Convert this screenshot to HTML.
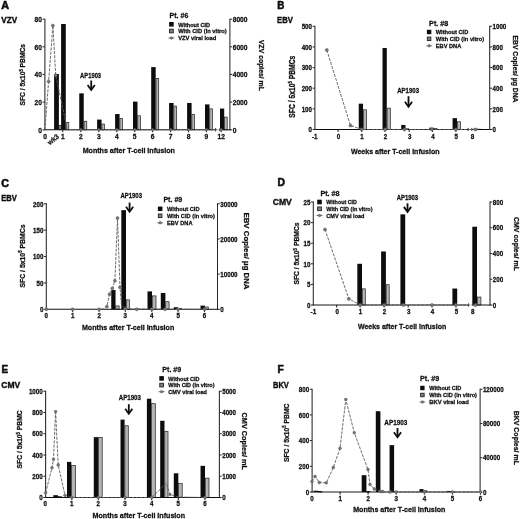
<!DOCTYPE html>
<html lang="en"><head><meta charset="utf-8"><title>Figure: T-cell responses and viral loads</title>
<style>html,body{margin:0;padding:0;background:#fff;}svg{display:block;}text{font-family:'Liberation Sans', 'DejaVu Sans', sans-serif;}</style>
</head><body>
<svg width="520" height="519" viewBox="0 0 520 519">
<rect x="0" y="0" width="520" height="519" fill="#fff"/>
<defs><filter id="soft" x="0" y="0" width="520" height="519" filterUnits="userSpaceOnUse"><feGaussianBlur stdDeviation="0.38"/></filter></defs>
<g filter="url(#soft)">
<g id="panelA">
<text x="1.30" y="9.10" font-size="10.9" font-weight="bold" fill="#111" stroke="#111" stroke-width="0.6" textLength="7.80" lengthAdjust="spacingAndGlyphs">A</text>
<text x="1.30" y="23.00" font-size="8.4" font-weight="bold" fill="#111" stroke="#111" stroke-width="0.4" textLength="15.80" lengthAdjust="spacingAndGlyphs">VZV</text>
<rect x="54.10" y="74.00" width="4.80" height="55.80" fill="#111"/>
<rect x="59.20" y="125.40" width="1.80" height="4.40" fill="#b4b4b4" stroke="#222" stroke-width="0.7"/>
<rect x="61.10" y="24.00" width="4.70" height="105.80" fill="#111"/>
<rect x="66.10" y="122.64" width="2.70" height="7.16" fill="#b4b4b4" stroke="#222" stroke-width="0.7"/>
<rect x="79.25" y="93.34" width="4.50" height="36.47" fill="#111"/>
<rect x="84.05" y="121.26" width="2.70" height="8.54" fill="#b4b4b4" stroke="#222" stroke-width="0.7"/>
<rect x="97.10" y="119.58" width="4.50" height="10.22" fill="#111"/>
<rect x="101.90" y="124.02" width="2.70" height="5.78" fill="#b4b4b4" stroke="#222" stroke-width="0.7"/>
<rect x="115.10" y="114.05" width="4.50" height="15.75" fill="#111"/>
<rect x="119.90" y="118.50" width="2.70" height="11.30" fill="#b4b4b4" stroke="#222" stroke-width="0.7"/>
<rect x="133.00" y="101.62" width="4.50" height="28.18" fill="#111"/>
<rect x="137.80" y="115.73" width="2.70" height="14.07" fill="#b4b4b4" stroke="#222" stroke-width="0.7"/>
<rect x="151.20" y="67.09" width="4.50" height="62.71" fill="#111"/>
<rect x="156.00" y="78.44" width="2.70" height="51.36" fill="#b4b4b4" stroke="#222" stroke-width="0.7"/>
<rect x="169.10" y="103.00" width="4.50" height="26.80" fill="#111"/>
<rect x="173.90" y="106.07" width="2.70" height="23.73" fill="#b4b4b4" stroke="#222" stroke-width="0.7"/>
<rect x="187.10" y="103.00" width="4.50" height="26.80" fill="#111"/>
<rect x="191.90" y="114.35" width="2.70" height="15.45" fill="#b4b4b4" stroke="#222" stroke-width="0.7"/>
<rect x="205.00" y="104.39" width="4.50" height="25.41" fill="#111"/>
<rect x="209.80" y="108.83" width="2.70" height="20.97" fill="#b4b4b4" stroke="#222" stroke-width="0.7"/>
<rect x="220.00" y="108.53" width="4.20" height="21.27" fill="#111"/>
<rect x="224.50" y="117.12" width="2.70" height="12.68" fill="#b4b4b4" stroke="#222" stroke-width="0.7"/>
<line x1="44.40" y1="129.80" x2="215.80" y2="129.80" stroke="#111" stroke-width="1.05" />
<line x1="219.40" y1="129.80" x2="230.40" y2="129.80" stroke="#111" stroke-width="1.05" />
<line x1="215.60" y1="128.00" x2="215.60" y2="131.60" stroke="#111" stroke-width="0.8" />
<line x1="219.50" y1="128.30" x2="219.50" y2="131.30" stroke="#111" stroke-width="0.6" />
<line x1="44.90" y1="18.70" x2="44.90" y2="130.30" stroke="#262626" stroke-width="1.05" />
<line x1="42.60" y1="19.20" x2="44.90" y2="19.20" stroke="#262626" stroke-width="1.0" />
<text x="34.60" y="22.13" font-size="7.5" font-weight="bold" fill="#111" stroke="#111" stroke-width="0.28" textLength="7.40" lengthAdjust="spacingAndGlyphs">80</text>
<line x1="42.60" y1="46.80" x2="44.90" y2="46.80" stroke="#262626" stroke-width="1.0" />
<text x="34.60" y="49.73" font-size="7.5" font-weight="bold" fill="#111" stroke="#111" stroke-width="0.28" textLength="7.40" lengthAdjust="spacingAndGlyphs">60</text>
<line x1="42.60" y1="74.45" x2="44.90" y2="74.45" stroke="#262626" stroke-width="1.0" />
<text x="34.60" y="77.39" font-size="7.5" font-weight="bold" fill="#111" stroke="#111" stroke-width="0.28" textLength="7.40" lengthAdjust="spacingAndGlyphs">40</text>
<line x1="42.60" y1="102.10" x2="44.90" y2="102.10" stroke="#262626" stroke-width="1.0" />
<text x="34.60" y="105.03" font-size="7.5" font-weight="bold" fill="#111" stroke="#111" stroke-width="0.28" textLength="7.40" lengthAdjust="spacingAndGlyphs">20</text>
<line x1="42.60" y1="129.80" x2="44.90" y2="129.80" stroke="#262626" stroke-width="1.0" />
<text x="38.30" y="132.74" font-size="7.5" font-weight="bold" fill="#111" stroke="#111" stroke-width="0.28" textLength="3.70" lengthAdjust="spacingAndGlyphs">0</text>
<line x1="229.90" y1="18.70" x2="229.90" y2="130.30" stroke="#262626" stroke-width="1.05" />
<line x1="229.90" y1="19.20" x2="232.20" y2="19.20" stroke="#262626" stroke-width="1.0" />
<text x="232.70" y="22.13" font-size="7.5" font-weight="bold" fill="#111" stroke="#111" stroke-width="0.28" textLength="14.80" lengthAdjust="spacingAndGlyphs">8000</text>
<line x1="229.90" y1="46.80" x2="232.20" y2="46.80" stroke="#262626" stroke-width="1.0" />
<text x="232.70" y="49.73" font-size="7.5" font-weight="bold" fill="#111" stroke="#111" stroke-width="0.28" textLength="14.80" lengthAdjust="spacingAndGlyphs">6000</text>
<line x1="229.90" y1="74.45" x2="232.20" y2="74.45" stroke="#262626" stroke-width="1.0" />
<text x="232.70" y="77.39" font-size="7.5" font-weight="bold" fill="#111" stroke="#111" stroke-width="0.28" textLength="14.80" lengthAdjust="spacingAndGlyphs">4000</text>
<line x1="229.90" y1="102.10" x2="232.20" y2="102.10" stroke="#262626" stroke-width="1.0" />
<text x="232.70" y="105.03" font-size="7.5" font-weight="bold" fill="#111" stroke="#111" stroke-width="0.28" textLength="14.80" lengthAdjust="spacingAndGlyphs">2000</text>
<line x1="229.90" y1="129.80" x2="232.20" y2="129.80" stroke="#262626" stroke-width="1.0" />
<text x="232.70" y="132.74" font-size="7.5" font-weight="bold" fill="#111" stroke="#111" stroke-width="0.28" textLength="3.70" lengthAdjust="spacingAndGlyphs">0</text>
<line x1="62.80" y1="129.80" x2="62.80" y2="132.20" stroke="#111" stroke-width="1.0" />
<line x1="80.80" y1="129.80" x2="80.80" y2="132.20" stroke="#111" stroke-width="1.0" />
<line x1="98.80" y1="129.80" x2="98.80" y2="132.20" stroke="#111" stroke-width="1.0" />
<line x1="116.80" y1="129.80" x2="116.80" y2="132.20" stroke="#111" stroke-width="1.0" />
<line x1="134.70" y1="129.80" x2="134.70" y2="132.20" stroke="#111" stroke-width="1.0" />
<line x1="152.60" y1="129.80" x2="152.60" y2="132.20" stroke="#111" stroke-width="1.0" />
<line x1="170.60" y1="129.80" x2="170.60" y2="132.20" stroke="#111" stroke-width="1.0" />
<line x1="188.50" y1="129.80" x2="188.50" y2="132.20" stroke="#111" stroke-width="1.0" />
<line x1="206.40" y1="129.80" x2="206.40" y2="132.20" stroke="#111" stroke-width="1.0" />
<line x1="221.20" y1="129.80" x2="221.20" y2="132.20" stroke="#111" stroke-width="1.0" />
<text x="43.35" y="139.10" font-size="7.5" font-weight="bold" fill="#111" stroke="#111" stroke-width="0.28" textLength="3.70" lengthAdjust="spacingAndGlyphs">0</text>
<text x="60.95" y="139.10" font-size="7.5" font-weight="bold" fill="#111" stroke="#111" stroke-width="0.28" textLength="3.70" lengthAdjust="spacingAndGlyphs">1</text>
<text x="78.95" y="139.10" font-size="7.5" font-weight="bold" fill="#111" stroke="#111" stroke-width="0.28" textLength="3.70" lengthAdjust="spacingAndGlyphs">2</text>
<text x="96.95" y="139.10" font-size="7.5" font-weight="bold" fill="#111" stroke="#111" stroke-width="0.28" textLength="3.70" lengthAdjust="spacingAndGlyphs">3</text>
<text x="114.95" y="139.10" font-size="7.5" font-weight="bold" fill="#111" stroke="#111" stroke-width="0.28" textLength="3.70" lengthAdjust="spacingAndGlyphs">4</text>
<text x="132.85" y="139.10" font-size="7.5" font-weight="bold" fill="#111" stroke="#111" stroke-width="0.28" textLength="3.70" lengthAdjust="spacingAndGlyphs">5</text>
<text x="150.75" y="139.10" font-size="7.5" font-weight="bold" fill="#111" stroke="#111" stroke-width="0.28" textLength="3.70" lengthAdjust="spacingAndGlyphs">6</text>
<text x="168.75" y="139.10" font-size="7.5" font-weight="bold" fill="#111" stroke="#111" stroke-width="0.28" textLength="3.70" lengthAdjust="spacingAndGlyphs">7</text>
<text x="186.65" y="139.10" font-size="7.5" font-weight="bold" fill="#111" stroke="#111" stroke-width="0.28" textLength="3.70" lengthAdjust="spacingAndGlyphs">8</text>
<text x="204.55" y="139.10" font-size="7.5" font-weight="bold" fill="#111" stroke="#111" stroke-width="0.28" textLength="3.70" lengthAdjust="spacingAndGlyphs">9</text>
<text x="217.50" y="139.10" font-size="7.5" font-weight="bold" fill="#111" stroke="#111" stroke-width="0.28" textLength="7.40" lengthAdjust="spacingAndGlyphs">12</text>
<text transform="translate(53.3,139.6) rotate(-40)" x="-6.2" y="2.3" font-size="7.1" font-weight="bold" fill="#111" stroke="#111" stroke-width="0.25" textLength="12.4" lengthAdjust="spacingAndGlyphs">wk3</text>
<polyline points="44.90,130.00 48.60,81.40 52.90,25.60 55.70,75.00 67.50,130.20" fill="none" stroke="#5c5c5c" stroke-width="0.9" stroke-dasharray="3 1.2"/>
<polyline points="67.50,129.80 222.00,129.80" fill="none" stroke="#5c5c5c" stroke-width="1.0" stroke-dasharray="3 1.2"/>
<circle cx="48.60" cy="81.40" r="1.5" fill="#767676" stroke="#5a5a5a" stroke-width="0.5"/>
<circle cx="52.90" cy="25.60" r="1.5" fill="#767676" stroke="#5a5a5a" stroke-width="0.5"/>
<circle cx="55.70" cy="75.20" r="1.5" fill="#767676" stroke="#5a5a5a" stroke-width="0.5"/>
<circle cx="80.80" cy="129.80" r="1.25" fill="#767676" stroke="#5a5a5a" stroke-width="0.5"/>
<circle cx="98.80" cy="129.80" r="1.25" fill="#767676" stroke="#5a5a5a" stroke-width="0.5"/>
<circle cx="116.80" cy="129.80" r="1.25" fill="#767676" stroke="#5a5a5a" stroke-width="0.5"/>
<circle cx="134.70" cy="129.80" r="1.25" fill="#767676" stroke="#5a5a5a" stroke-width="0.5"/>
<circle cx="152.60" cy="129.80" r="1.25" fill="#767676" stroke="#5a5a5a" stroke-width="0.5"/>
<circle cx="170.60" cy="129.80" r="1.25" fill="#767676" stroke="#5a5a5a" stroke-width="0.5"/>
<circle cx="188.50" cy="129.80" r="1.25" fill="#767676" stroke="#5a5a5a" stroke-width="0.5"/>
<circle cx="206.40" cy="129.80" r="1.25" fill="#767676" stroke="#5a5a5a" stroke-width="0.5"/>
<circle cx="221.20" cy="129.80" r="1.25" fill="#767676" stroke="#5a5a5a" stroke-width="0.5"/>
<text x="80.10" y="78.20" font-size="7.0" font-weight="bold" fill="#111" stroke="#111" stroke-width="0.28" textLength="21.00" lengthAdjust="spacingAndGlyphs">AP1903</text>
<line x1="91.20" y1="80.50" x2="91.20" y2="89.70" stroke="#111" stroke-width="1.8" />
<polyline points="87.60,85.00 91.20,90.00 94.80,85.00" fill="none" stroke="#111" stroke-width="1.8" stroke-linejoin="miter"/>
<text x="169.60" y="18.35" font-size="7.9" font-weight="bold" fill="#111" stroke="#111" stroke-width="0.28" textLength="18.70" lengthAdjust="spacingAndGlyphs">Pt. #6</text>
<rect x="169.10" y="22.00" width="4.60" height="4.60" fill="#111"/>
<rect x="169.55" y="29.15" width="3.70" height="3.70" fill="#808080" stroke="#222" stroke-width="0.9"/>
<line x1="168.50" y1="38.00" x2="174.30" y2="38.00" stroke="#5c5c5c" stroke-width="0.9" />
<circle cx="171.40" cy="38.00" r="1.3" fill="#767676" stroke="#5a5a5a" stroke-width="0.5"/>
<text x="178.20" y="26.60" font-size="6.1" font-weight="bold" fill="#111" stroke="#111" stroke-width="0.28" textLength="31.80" lengthAdjust="spacingAndGlyphs">Without CID</text>
<text x="178.20" y="33.30" font-size="6.1" font-weight="bold" fill="#111" stroke="#111" stroke-width="0.28" textLength="48.60" lengthAdjust="spacingAndGlyphs">With CID (in vitro)</text>
<text x="178.20" y="40.30" font-size="6.1" font-weight="bold" fill="#111" stroke="#111" stroke-width="0.28" textLength="38.10" lengthAdjust="spacingAndGlyphs">VZV viral load</text>
<text transform="translate(22.20,74.70) rotate(-90)" x="-30.75" y="2.90" font-size="8.1" font-weight="bold" fill="#111" stroke="#111" stroke-width="0.28" textLength="61.50" lengthAdjust="spacingAndGlyphs">SFC / 5x10<tspan font-size="5" dy="-2.6">5</tspan><tspan dy="2.6"> </tspan>PBMCs</text>
<text transform="translate(261.80,65.40) rotate(90)" x="-25.40" y="2.60" font-size="7.7" font-weight="bold" fill="#111" stroke="#111" stroke-width="0.28" textLength="50.80" lengthAdjust="spacingAndGlyphs">VZV copies/ mL</text>
<text x="82.65" y="153.40" font-size="7.7" font-weight="bold" fill="#111" stroke="#111" stroke-width="0.28" textLength="92.30" lengthAdjust="spacingAndGlyphs">Months after T-cell infusion</text>
</g>
<g id="panelB">
<text x="277.30" y="9.10" font-size="10.9" font-weight="bold" fill="#111" stroke="#111" stroke-width="0.6" textLength="7.10" lengthAdjust="spacingAndGlyphs">B</text>
<text x="277.10" y="23.10" font-size="8.4" font-weight="bold" fill="#111" stroke="#111" stroke-width="0.4" textLength="15.70" lengthAdjust="spacingAndGlyphs">EBV</text>
<rect x="358.75" y="103.70" width="4.30" height="25.80" fill="#111"/>
<rect x="363.35" y="109.78" width="3.20" height="19.72" fill="#b4b4b4" stroke="#222" stroke-width="0.7"/>
<rect x="382.50" y="47.97" width="4.30" height="81.53" fill="#111"/>
<rect x="387.10" y="108.13" width="3.20" height="21.37" fill="#b4b4b4" stroke="#222" stroke-width="0.7"/>
<rect x="401.20" y="124.96" width="4.30" height="4.54" fill="#111"/>
<rect x="405.80" y="128.77" width="3.00" height="0.73" fill="#b4b4b4" stroke="#222" stroke-width="0.7"/>
<rect x="429.40" y="127.64" width="4.20" height="1.86" fill="#111"/>
<rect x="433.90" y="128.36" width="3.00" height="1.14" fill="#b4b4b4" stroke="#222" stroke-width="0.7"/>
<rect x="452.60" y="118.15" width="4.40" height="11.35" fill="#111"/>
<rect x="457.30" y="121.75" width="3.20" height="7.75" fill="#b4b4b4" stroke="#222" stroke-width="0.7"/>
<rect x="473.60" y="128.47" width="3.60" height="1.03" fill="#111"/>
<rect x="477.50" y="129.18" width="2.80" height="0.32" fill="#b4b4b4" stroke="#222" stroke-width="0.7"/>
<line x1="314.40" y1="129.50" x2="468.30" y2="129.50" stroke="#111" stroke-width="1.0" />
<line x1="471.70" y1="129.50" x2="490.20" y2="129.50" stroke="#111" stroke-width="1.0" />
<line x1="468.20" y1="127.90" x2="468.20" y2="131.10" stroke="#111" stroke-width="0.8" />
<line x1="471.80" y1="127.90" x2="471.80" y2="131.10" stroke="#111" stroke-width="0.8" />
<line x1="314.90" y1="25.80" x2="314.90" y2="130.00" stroke="#262626" stroke-width="1.05" />
<line x1="312.60" y1="26.30" x2="314.90" y2="26.30" stroke="#262626" stroke-width="1.0" />
<text x="301.65" y="29.02" font-size="6.9" font-weight="bold" fill="#111" stroke="#111" stroke-width="0.28" textLength="10.35" lengthAdjust="spacingAndGlyphs">500</text>
<line x1="312.60" y1="46.95" x2="314.90" y2="46.95" stroke="#262626" stroke-width="1.0" />
<text x="301.65" y="49.67" font-size="6.9" font-weight="bold" fill="#111" stroke="#111" stroke-width="0.28" textLength="10.35" lengthAdjust="spacingAndGlyphs">400</text>
<line x1="312.60" y1="67.60" x2="314.90" y2="67.60" stroke="#262626" stroke-width="1.0" />
<text x="301.65" y="70.32" font-size="6.9" font-weight="bold" fill="#111" stroke="#111" stroke-width="0.28" textLength="10.35" lengthAdjust="spacingAndGlyphs">300</text>
<line x1="312.60" y1="88.20" x2="314.90" y2="88.20" stroke="#262626" stroke-width="1.0" />
<text x="301.65" y="90.92" font-size="6.9" font-weight="bold" fill="#111" stroke="#111" stroke-width="0.28" textLength="10.35" lengthAdjust="spacingAndGlyphs">200</text>
<line x1="312.60" y1="108.85" x2="314.90" y2="108.85" stroke="#262626" stroke-width="1.0" />
<text x="301.65" y="111.57" font-size="6.9" font-weight="bold" fill="#111" stroke="#111" stroke-width="0.28" textLength="10.35" lengthAdjust="spacingAndGlyphs">100</text>
<line x1="312.60" y1="129.50" x2="314.90" y2="129.50" stroke="#262626" stroke-width="1.0" />
<text x="308.55" y="132.22" font-size="6.9" font-weight="bold" fill="#111" stroke="#111" stroke-width="0.28" textLength="3.45" lengthAdjust="spacingAndGlyphs">0</text>
<line x1="489.70" y1="25.80" x2="489.70" y2="130.00" stroke="#262626" stroke-width="1.05" />
<line x1="489.70" y1="26.30" x2="492.00" y2="26.30" stroke="#262626" stroke-width="1.0" />
<text x="492.50" y="29.02" font-size="6.9" font-weight="bold" fill="#111" stroke="#111" stroke-width="0.28" textLength="13.80" lengthAdjust="spacingAndGlyphs">1000</text>
<line x1="489.70" y1="46.95" x2="492.00" y2="46.95" stroke="#262626" stroke-width="1.0" />
<text x="492.50" y="49.67" font-size="6.9" font-weight="bold" fill="#111" stroke="#111" stroke-width="0.28" textLength="10.35" lengthAdjust="spacingAndGlyphs">800</text>
<line x1="489.70" y1="67.60" x2="492.00" y2="67.60" stroke="#262626" stroke-width="1.0" />
<text x="492.50" y="70.32" font-size="6.9" font-weight="bold" fill="#111" stroke="#111" stroke-width="0.28" textLength="10.35" lengthAdjust="spacingAndGlyphs">600</text>
<line x1="489.70" y1="88.20" x2="492.00" y2="88.20" stroke="#262626" stroke-width="1.0" />
<text x="492.50" y="90.92" font-size="6.9" font-weight="bold" fill="#111" stroke="#111" stroke-width="0.28" textLength="10.35" lengthAdjust="spacingAndGlyphs">400</text>
<line x1="489.70" y1="108.85" x2="492.00" y2="108.85" stroke="#262626" stroke-width="1.0" />
<text x="492.50" y="111.57" font-size="6.9" font-weight="bold" fill="#111" stroke="#111" stroke-width="0.28" textLength="10.35" lengthAdjust="spacingAndGlyphs">200</text>
<line x1="489.70" y1="129.50" x2="492.00" y2="129.50" stroke="#262626" stroke-width="1.0" />
<text x="492.50" y="132.22" font-size="6.9" font-weight="bold" fill="#111" stroke="#111" stroke-width="0.28" textLength="3.45" lengthAdjust="spacingAndGlyphs">0</text>
<line x1="338.10" y1="129.50" x2="338.10" y2="131.90" stroke="#111" stroke-width="1.0" />
<line x1="361.60" y1="129.50" x2="361.60" y2="131.90" stroke="#111" stroke-width="1.0" />
<line x1="385.00" y1="129.50" x2="385.00" y2="131.90" stroke="#111" stroke-width="1.0" />
<line x1="409.20" y1="129.50" x2="409.20" y2="131.90" stroke="#111" stroke-width="1.0" />
<line x1="432.50" y1="129.50" x2="432.50" y2="131.90" stroke="#111" stroke-width="1.0" />
<line x1="455.90" y1="129.50" x2="455.90" y2="131.90" stroke="#111" stroke-width="1.0" />
<text x="311.88" y="138.70" font-size="6.9" font-weight="bold" fill="#111" stroke="#111" stroke-width="0.28" textLength="5.65" lengthAdjust="spacingAndGlyphs">-1</text>
<text x="336.77" y="138.70" font-size="6.9" font-weight="bold" fill="#111" stroke="#111" stroke-width="0.28" textLength="3.45" lengthAdjust="spacingAndGlyphs">0</text>
<text x="360.27" y="138.70" font-size="6.9" font-weight="bold" fill="#111" stroke="#111" stroke-width="0.28" textLength="3.45" lengthAdjust="spacingAndGlyphs">1</text>
<text x="383.67" y="138.70" font-size="6.9" font-weight="bold" fill="#111" stroke="#111" stroke-width="0.28" textLength="3.45" lengthAdjust="spacingAndGlyphs">2</text>
<text x="407.88" y="138.70" font-size="6.9" font-weight="bold" fill="#111" stroke="#111" stroke-width="0.28" textLength="3.45" lengthAdjust="spacingAndGlyphs">3</text>
<text x="431.17" y="138.70" font-size="6.9" font-weight="bold" fill="#111" stroke="#111" stroke-width="0.28" textLength="3.45" lengthAdjust="spacingAndGlyphs">4</text>
<text x="454.57" y="138.70" font-size="6.9" font-weight="bold" fill="#111" stroke="#111" stroke-width="0.28" textLength="3.45" lengthAdjust="spacingAndGlyphs">5</text>
<text x="470.77" y="138.70" font-size="6.9" font-weight="bold" fill="#111" stroke="#111" stroke-width="0.28" textLength="3.45" lengthAdjust="spacingAndGlyphs">8</text>
<polyline points="326.80,50.00 350.50,125.50 361.70,129.50 476.00,129.50" fill="none" stroke="#5c5c5c" stroke-width="0.9" stroke-dasharray="3 1.2"/>
<circle cx="326.80" cy="50.00" r="1.6" fill="#767676" stroke="#5a5a5a" stroke-width="0.5"/>
<circle cx="350.50" cy="125.50" r="1.6" fill="#767676" stroke="#5a5a5a" stroke-width="0.5"/>
<circle cx="361.70" cy="129.50" r="1.6" fill="#767676" stroke="#5a5a5a" stroke-width="0.5"/>
<circle cx="385.10" cy="129.50" r="1.6" fill="#767676" stroke="#5a5a5a" stroke-width="0.5"/>
<circle cx="404.50" cy="129.50" r="1.6" fill="#767676" stroke="#5a5a5a" stroke-width="0.5"/>
<circle cx="431.80" cy="129.50" r="1.6" fill="#767676" stroke="#5a5a5a" stroke-width="0.5"/>
<circle cx="455.90" cy="129.50" r="1.6" fill="#767676" stroke="#5a5a5a" stroke-width="0.5"/>
<circle cx="475.50" cy="129.50" r="1.6" fill="#767676" stroke="#5a5a5a" stroke-width="0.5"/>
<text x="397.20" y="93.20" font-size="7.0" font-weight="bold" fill="#111" stroke="#111" stroke-width="0.28" textLength="21.80" lengthAdjust="spacingAndGlyphs">AP1903</text>
<line x1="408.50" y1="96.20" x2="408.50" y2="106.50" stroke="#111" stroke-width="1.8" />
<polyline points="404.90,101.80 408.50,106.80 412.10,101.80" fill="none" stroke="#111" stroke-width="1.8" stroke-linejoin="miter"/>
<text x="429.10" y="25.85" font-size="7.9" font-weight="bold" fill="#111" stroke="#111" stroke-width="0.28" textLength="19.20" lengthAdjust="spacingAndGlyphs">Pt. #8</text>
<rect x="426.90" y="29.80" width="4.40" height="4.40" fill="#111"/>
<rect x="427.35" y="37.05" width="3.50" height="3.50" fill="#808080" stroke="#222" stroke-width="0.9"/>
<line x1="426.30" y1="45.80" x2="431.90" y2="45.80" stroke="#5c5c5c" stroke-width="0.9" />
<circle cx="429.10" cy="45.80" r="1.3" fill="#767676" stroke="#5a5a5a" stroke-width="0.5"/>
<text x="435.80" y="34.30" font-size="6.1" font-weight="bold" fill="#111" stroke="#111" stroke-width="0.28" textLength="32.50" lengthAdjust="spacingAndGlyphs">Without CID</text>
<text x="435.80" y="41.10" font-size="6.1" font-weight="bold" fill="#111" stroke="#111" stroke-width="0.28" textLength="48.50" lengthAdjust="spacingAndGlyphs">With CID (in vitro)</text>
<text x="435.80" y="48.10" font-size="6.1" font-weight="bold" fill="#111" stroke="#111" stroke-width="0.28" textLength="25.50" lengthAdjust="spacingAndGlyphs">EBV DNA</text>
<text transform="translate(292.00,86.70) rotate(-90)" x="-31.00" y="3.00" font-size="8.2" font-weight="bold" fill="#111" stroke="#111" stroke-width="0.28" textLength="62.00" lengthAdjust="spacingAndGlyphs">SFC / 5x10<tspan font-size="5" dy="-2.6">5</tspan><tspan dy="2.6"> </tspan>PBMCs</text>
<text transform="translate(516.20,69.00) rotate(90)" x="-33.50" y="2.90" font-size="8.1" font-weight="bold" fill="#111" stroke="#111" stroke-width="0.28" textLength="67.00" lengthAdjust="spacingAndGlyphs">EBV Copies/ &#181;g DNA</text>
<text x="350.90" y="153.90" font-size="7.7" font-weight="bold" fill="#111" stroke="#111" stroke-width="0.28" textLength="88.60" lengthAdjust="spacingAndGlyphs">Weeks after T-cell infusion</text>
</g>
<g id="panelC">
<text x="1.30" y="186.70" font-size="11.2" font-weight="bold" fill="#111" stroke="#111" stroke-width="0.6" textLength="7.70" lengthAdjust="spacingAndGlyphs">C</text>
<text x="1.30" y="201.00" font-size="8.5" font-weight="bold" fill="#111" stroke="#111" stroke-width="0.4" textLength="15.60" lengthAdjust="spacingAndGlyphs">EBV</text>
<rect x="111.25" y="290.05" width="4.30" height="19.25" fill="#111"/>
<rect x="115.85" y="305.91" width="3.30" height="3.39" fill="#b4b4b4" stroke="#222" stroke-width="0.7"/>
<rect x="121.30" y="210.13" width="4.70" height="99.17" fill="#111"/>
<rect x="126.30" y="299.84" width="3.10" height="9.46" fill="#b4b4b4" stroke="#222" stroke-width="0.7"/>
<rect x="147.50" y="291.37" width="4.50" height="17.94" fill="#111"/>
<rect x="152.30" y="295.89" width="3.70" height="13.41" fill="#b4b4b4" stroke="#222" stroke-width="0.7"/>
<rect x="160.80" y="292.95" width="4.60" height="16.35" fill="#111"/>
<rect x="165.70" y="301.69" width="3.40" height="7.61" fill="#b4b4b4" stroke="#222" stroke-width="0.7"/>
<rect x="173.80" y="307.19" width="4.20" height="2.11" fill="#111"/>
<rect x="178.30" y="308.55" width="3.20" height="0.76" fill="#b4b4b4" stroke="#222" stroke-width="0.7"/>
<rect x="200.50" y="305.61" width="4.30" height="3.69" fill="#111"/>
<rect x="205.10" y="306.96" width="3.20" height="2.34" fill="#b4b4b4" stroke="#222" stroke-width="0.7"/>
<line x1="45.80" y1="309.30" x2="218.00" y2="309.30" stroke="#111" stroke-width="1.0" />
<line x1="46.30" y1="203.30" x2="46.30" y2="309.80" stroke="#262626" stroke-width="1.05" />
<line x1="44.00" y1="203.80" x2="46.30" y2="203.80" stroke="#262626" stroke-width="1.0" />
<text x="33.05" y="206.52" font-size="6.9" font-weight="bold" fill="#111" stroke="#111" stroke-width="0.28" textLength="10.35" lengthAdjust="spacingAndGlyphs">200</text>
<line x1="44.00" y1="230.20" x2="46.30" y2="230.20" stroke="#262626" stroke-width="1.0" />
<text x="33.05" y="232.92" font-size="6.9" font-weight="bold" fill="#111" stroke="#111" stroke-width="0.28" textLength="10.35" lengthAdjust="spacingAndGlyphs">150</text>
<line x1="44.00" y1="256.55" x2="46.30" y2="256.55" stroke="#262626" stroke-width="1.0" />
<text x="33.05" y="259.27" font-size="6.9" font-weight="bold" fill="#111" stroke="#111" stroke-width="0.28" textLength="10.35" lengthAdjust="spacingAndGlyphs">100</text>
<line x1="44.00" y1="282.90" x2="46.30" y2="282.90" stroke="#262626" stroke-width="1.0" />
<text x="36.50" y="285.62" font-size="6.9" font-weight="bold" fill="#111" stroke="#111" stroke-width="0.28" textLength="6.90" lengthAdjust="spacingAndGlyphs">50</text>
<line x1="44.00" y1="309.30" x2="46.30" y2="309.30" stroke="#262626" stroke-width="1.0" />
<text x="39.95" y="312.02" font-size="6.9" font-weight="bold" fill="#111" stroke="#111" stroke-width="0.28" textLength="3.45" lengthAdjust="spacingAndGlyphs">0</text>
<line x1="217.50" y1="203.30" x2="217.50" y2="309.80" stroke="#262626" stroke-width="1.05" />
<line x1="217.50" y1="203.80" x2="219.80" y2="203.80" stroke="#262626" stroke-width="1.0" />
<text x="220.30" y="206.52" font-size="6.9" font-weight="bold" fill="#111" stroke="#111" stroke-width="0.28" textLength="17.25" lengthAdjust="spacingAndGlyphs">30000</text>
<line x1="217.50" y1="238.97" x2="219.80" y2="238.97" stroke="#262626" stroke-width="1.0" />
<text x="220.30" y="241.69" font-size="6.9" font-weight="bold" fill="#111" stroke="#111" stroke-width="0.28" textLength="17.25" lengthAdjust="spacingAndGlyphs">20000</text>
<line x1="217.50" y1="274.10" x2="219.80" y2="274.10" stroke="#262626" stroke-width="1.0" />
<text x="220.30" y="276.82" font-size="6.9" font-weight="bold" fill="#111" stroke="#111" stroke-width="0.28" textLength="17.25" lengthAdjust="spacingAndGlyphs">10000</text>
<line x1="217.50" y1="309.30" x2="219.80" y2="309.30" stroke="#262626" stroke-width="1.0" />
<text x="220.30" y="312.02" font-size="6.9" font-weight="bold" fill="#111" stroke="#111" stroke-width="0.28" textLength="3.45" lengthAdjust="spacingAndGlyphs">0</text>
<line x1="72.60" y1="309.30" x2="72.60" y2="311.90" stroke="#111" stroke-width="1.0" />
<line x1="99.10" y1="309.30" x2="99.10" y2="311.90" stroke="#111" stroke-width="1.0" />
<line x1="125.30" y1="309.30" x2="125.30" y2="311.90" stroke="#111" stroke-width="1.0" />
<line x1="151.80" y1="309.30" x2="151.80" y2="311.90" stroke="#111" stroke-width="1.0" />
<line x1="178.10" y1="309.30" x2="178.10" y2="311.90" stroke="#111" stroke-width="1.0" />
<line x1="204.50" y1="309.30" x2="204.50" y2="311.90" stroke="#111" stroke-width="1.0" />
<text x="44.57" y="318.30" font-size="6.9" font-weight="bold" fill="#111" stroke="#111" stroke-width="0.28" textLength="3.45" lengthAdjust="spacingAndGlyphs">0</text>
<text x="70.88" y="318.30" font-size="6.9" font-weight="bold" fill="#111" stroke="#111" stroke-width="0.28" textLength="3.45" lengthAdjust="spacingAndGlyphs">1</text>
<text x="97.38" y="318.30" font-size="6.9" font-weight="bold" fill="#111" stroke="#111" stroke-width="0.28" textLength="3.45" lengthAdjust="spacingAndGlyphs">2</text>
<text x="123.58" y="318.30" font-size="6.9" font-weight="bold" fill="#111" stroke="#111" stroke-width="0.28" textLength="3.45" lengthAdjust="spacingAndGlyphs">3</text>
<text x="150.08" y="318.30" font-size="6.9" font-weight="bold" fill="#111" stroke="#111" stroke-width="0.28" textLength="3.45" lengthAdjust="spacingAndGlyphs">4</text>
<text x="176.38" y="318.30" font-size="6.9" font-weight="bold" fill="#111" stroke="#111" stroke-width="0.28" textLength="3.45" lengthAdjust="spacingAndGlyphs">5</text>
<text x="202.78" y="318.30" font-size="6.9" font-weight="bold" fill="#111" stroke="#111" stroke-width="0.28" textLength="3.45" lengthAdjust="spacingAndGlyphs">6</text>
<polyline points="46.30,309.30 72.60,309.30 99.10,309.30 104.00,308.80 106.90,306.60 109.50,294.20 112.30,288.30 114.90,280.80 117.50,218.00" fill="none" stroke="#5c5c5c" stroke-width="0.9" stroke-dasharray="3 1.2"/>
<polyline points="117.50,218.00 120.00,287.50 121.50,305.00 125.30,308.80 204.50,309.30" fill="none" stroke="#5c5c5c" stroke-width="0.9" stroke-dasharray="3 1.2"/>
<circle cx="46.30" cy="309.30" r="1.5" fill="#767676" stroke="#5a5a5a" stroke-width="0.5"/>
<circle cx="72.60" cy="309.30" r="1.5" fill="#767676" stroke="#5a5a5a" stroke-width="0.5"/>
<circle cx="99.10" cy="309.30" r="1.5" fill="#767676" stroke="#5a5a5a" stroke-width="0.5"/>
<circle cx="106.90" cy="306.60" r="1.5" fill="#767676" stroke="#5a5a5a" stroke-width="0.5"/>
<circle cx="109.50" cy="294.20" r="1.5" fill="#767676" stroke="#5a5a5a" stroke-width="0.5"/>
<circle cx="112.30" cy="288.30" r="1.5" fill="#767676" stroke="#5a5a5a" stroke-width="0.5"/>
<circle cx="114.90" cy="280.80" r="1.5" fill="#767676" stroke="#5a5a5a" stroke-width="0.5"/>
<circle cx="117.50" cy="218.00" r="1.5" fill="#767676" stroke="#5a5a5a" stroke-width="0.5"/>
<circle cx="120.00" cy="287.30" r="1.5" fill="#767676" stroke="#5a5a5a" stroke-width="0.5"/>
<circle cx="125.30" cy="308.80" r="1.5" fill="#767676" stroke="#5a5a5a" stroke-width="0.5"/>
<circle cx="136.80" cy="309.30" r="1.5" fill="#767676" stroke="#5a5a5a" stroke-width="0.5"/>
<circle cx="151.80" cy="309.30" r="1.5" fill="#767676" stroke="#5a5a5a" stroke-width="0.5"/>
<circle cx="165.00" cy="309.30" r="1.5" fill="#767676" stroke="#5a5a5a" stroke-width="0.5"/>
<circle cx="178.10" cy="309.30" r="1.5" fill="#767676" stroke="#5a5a5a" stroke-width="0.5"/>
<circle cx="204.50" cy="309.30" r="1.5" fill="#767676" stroke="#5a5a5a" stroke-width="0.5"/>
<text x="120.40" y="198.20" font-size="7.0" font-weight="bold" fill="#111" stroke="#111" stroke-width="0.28" textLength="21.60" lengthAdjust="spacingAndGlyphs">AP1903</text>
<line x1="129.60" y1="202.60" x2="129.60" y2="211.40" stroke="#111" stroke-width="1.8" />
<polyline points="126.00,206.70 129.60,211.70 133.20,206.70" fill="none" stroke="#111" stroke-width="1.8" stroke-linejoin="miter"/>
<text x="163.40" y="202.35" font-size="7.9" font-weight="bold" fill="#111" stroke="#111" stroke-width="0.28" textLength="18.90" lengthAdjust="spacingAndGlyphs">Pt. #9</text>
<rect x="157.90" y="206.55" width="4.50" height="4.50" fill="#111"/>
<rect x="158.35" y="214.00" width="3.60" height="3.60" fill="#808080" stroke="#222" stroke-width="0.9"/>
<line x1="157.30" y1="222.80" x2="163.00" y2="222.80" stroke="#5c5c5c" stroke-width="0.9" />
<circle cx="160.15" cy="222.80" r="1.3" fill="#767676" stroke="#5a5a5a" stroke-width="0.5"/>
<text x="167.00" y="211.10" font-size="6.1" font-weight="bold" fill="#111" stroke="#111" stroke-width="0.28" textLength="32.50" lengthAdjust="spacingAndGlyphs">Without CID</text>
<text x="167.00" y="218.10" font-size="6.1" font-weight="bold" fill="#111" stroke="#111" stroke-width="0.28" textLength="48.00" lengthAdjust="spacingAndGlyphs">With CID (in vitro)</text>
<text x="167.00" y="225.10" font-size="6.1" font-weight="bold" fill="#111" stroke="#111" stroke-width="0.28" textLength="25.50" lengthAdjust="spacingAndGlyphs">EBV DNA</text>
<text transform="translate(21.50,256.00) rotate(-90)" x="-31.50" y="3.00" font-size="7.8" font-weight="bold" fill="#111" stroke="#111" stroke-width="0.28" textLength="63.00" lengthAdjust="spacingAndGlyphs">SFC / 5x10<tspan font-size="5" dy="-2.6">5</tspan><tspan dy="2.6"> </tspan>PBMCs</text>
<text transform="translate(247.00,251.00) rotate(90)" x="-38.50" y="3.00" font-size="7.7" font-weight="bold" fill="#111" stroke="#111" stroke-width="0.28" textLength="77.00" lengthAdjust="spacingAndGlyphs">EBV Copies/ &#181;g DNA</text>
<text x="81.95" y="330.10" font-size="7.7" font-weight="bold" fill="#111" stroke="#111" stroke-width="0.28" textLength="92.30" lengthAdjust="spacingAndGlyphs">Months after T-cell infusion</text>
</g>
<g id="panelD">
<text x="277.50" y="186.20" font-size="10.9" font-weight="bold" fill="#111" stroke="#111" stroke-width="0.6" textLength="7.50" lengthAdjust="spacingAndGlyphs">D</text>
<text x="272.70" y="205.00" font-size="8.8" font-weight="bold" fill="#111" stroke="#111" stroke-width="0.4" textLength="19.10" lengthAdjust="spacingAndGlyphs">CMV</text>
<rect x="357.30" y="263.80" width="4.70" height="41.20" fill="#111"/>
<rect x="362.30" y="288.82" width="3.00" height="16.18" fill="#b4b4b4" stroke="#222" stroke-width="0.7"/>
<rect x="381.10" y="251.44" width="4.80" height="53.56" fill="#111"/>
<rect x="386.20" y="284.70" width="3.00" height="20.30" fill="#b4b4b4" stroke="#222" stroke-width="0.7"/>
<rect x="400.40" y="214.36" width="4.80" height="90.64" fill="#111"/>
<rect x="452.40" y="288.52" width="4.80" height="16.48" fill="#111"/>
<rect x="472.30" y="226.72" width="4.70" height="78.28" fill="#111"/>
<rect x="477.30" y="297.06" width="3.60" height="7.94" fill="#b4b4b4" stroke="#222" stroke-width="0.7"/>
<line x1="312.80" y1="305.00" x2="468.60" y2="305.00" stroke="#111" stroke-width="1.0" />
<line x1="472.00" y1="305.00" x2="490.50" y2="305.00" stroke="#111" stroke-width="1.0" />
<line x1="468.50" y1="303.40" x2="468.50" y2="306.60" stroke="#111" stroke-width="0.8" />
<line x1="313.30" y1="201.50" x2="313.30" y2="305.50" stroke="#262626" stroke-width="1.05" />
<line x1="311.00" y1="202.00" x2="313.30" y2="202.00" stroke="#262626" stroke-width="1.0" />
<text x="303.50" y="204.72" font-size="6.9" font-weight="bold" fill="#111" stroke="#111" stroke-width="0.28" textLength="6.90" lengthAdjust="spacingAndGlyphs">25</text>
<line x1="311.00" y1="222.60" x2="313.30" y2="222.60" stroke="#262626" stroke-width="1.0" />
<text x="303.50" y="225.32" font-size="6.9" font-weight="bold" fill="#111" stroke="#111" stroke-width="0.28" textLength="6.90" lengthAdjust="spacingAndGlyphs">20</text>
<line x1="311.00" y1="243.20" x2="313.30" y2="243.20" stroke="#262626" stroke-width="1.0" />
<text x="303.50" y="245.92" font-size="6.9" font-weight="bold" fill="#111" stroke="#111" stroke-width="0.28" textLength="6.90" lengthAdjust="spacingAndGlyphs">15</text>
<line x1="311.00" y1="263.80" x2="313.30" y2="263.80" stroke="#262626" stroke-width="1.0" />
<text x="303.50" y="266.52" font-size="6.9" font-weight="bold" fill="#111" stroke="#111" stroke-width="0.28" textLength="6.90" lengthAdjust="spacingAndGlyphs">10</text>
<line x1="311.00" y1="284.40" x2="313.30" y2="284.40" stroke="#262626" stroke-width="1.0" />
<text x="306.95" y="287.12" font-size="6.9" font-weight="bold" fill="#111" stroke="#111" stroke-width="0.28" textLength="3.45" lengthAdjust="spacingAndGlyphs">5</text>
<line x1="311.00" y1="305.00" x2="313.30" y2="305.00" stroke="#262626" stroke-width="1.0" />
<text x="306.95" y="307.72" font-size="6.9" font-weight="bold" fill="#111" stroke="#111" stroke-width="0.28" textLength="3.45" lengthAdjust="spacingAndGlyphs">0</text>
<line x1="490.00" y1="201.50" x2="490.00" y2="305.50" stroke="#262626" stroke-width="1.05" />
<line x1="490.00" y1="202.00" x2="492.30" y2="202.00" stroke="#262626" stroke-width="1.0" />
<text x="492.80" y="204.72" font-size="6.9" font-weight="bold" fill="#111" stroke="#111" stroke-width="0.28" textLength="10.35" lengthAdjust="spacingAndGlyphs">800</text>
<line x1="490.00" y1="227.75" x2="492.30" y2="227.75" stroke="#262626" stroke-width="1.0" />
<text x="492.80" y="230.47" font-size="6.9" font-weight="bold" fill="#111" stroke="#111" stroke-width="0.28" textLength="10.35" lengthAdjust="spacingAndGlyphs">600</text>
<line x1="490.00" y1="253.50" x2="492.30" y2="253.50" stroke="#262626" stroke-width="1.0" />
<text x="492.80" y="256.22" font-size="6.9" font-weight="bold" fill="#111" stroke="#111" stroke-width="0.28" textLength="10.35" lengthAdjust="spacingAndGlyphs">400</text>
<line x1="490.00" y1="279.25" x2="492.30" y2="279.25" stroke="#262626" stroke-width="1.0" />
<text x="492.80" y="281.97" font-size="6.9" font-weight="bold" fill="#111" stroke="#111" stroke-width="0.28" textLength="10.35" lengthAdjust="spacingAndGlyphs">200</text>
<line x1="490.00" y1="305.00" x2="492.30" y2="305.00" stroke="#262626" stroke-width="1.0" />
<text x="492.80" y="307.72" font-size="6.9" font-weight="bold" fill="#111" stroke="#111" stroke-width="0.28" textLength="3.45" lengthAdjust="spacingAndGlyphs">0</text>
<line x1="336.70" y1="305.00" x2="336.70" y2="307.40" stroke="#111" stroke-width="1.0" />
<line x1="360.10" y1="305.00" x2="360.10" y2="307.40" stroke="#111" stroke-width="1.0" />
<line x1="384.10" y1="305.00" x2="384.10" y2="307.40" stroke="#111" stroke-width="1.0" />
<line x1="408.20" y1="305.00" x2="408.20" y2="307.40" stroke="#111" stroke-width="1.0" />
<line x1="432.00" y1="305.00" x2="432.00" y2="307.40" stroke="#111" stroke-width="1.0" />
<line x1="456.00" y1="305.00" x2="456.00" y2="307.40" stroke="#111" stroke-width="1.0" />
<text x="310.57" y="314.10" font-size="6.9" font-weight="bold" fill="#111" stroke="#111" stroke-width="0.28" textLength="5.65" lengthAdjust="spacingAndGlyphs">-1</text>
<text x="335.38" y="314.10" font-size="6.9" font-weight="bold" fill="#111" stroke="#111" stroke-width="0.28" textLength="3.45" lengthAdjust="spacingAndGlyphs">0</text>
<text x="358.77" y="314.10" font-size="6.9" font-weight="bold" fill="#111" stroke="#111" stroke-width="0.28" textLength="3.45" lengthAdjust="spacingAndGlyphs">1</text>
<text x="382.77" y="314.10" font-size="6.9" font-weight="bold" fill="#111" stroke="#111" stroke-width="0.28" textLength="3.45" lengthAdjust="spacingAndGlyphs">2</text>
<text x="406.88" y="314.10" font-size="6.9" font-weight="bold" fill="#111" stroke="#111" stroke-width="0.28" textLength="3.45" lengthAdjust="spacingAndGlyphs">3</text>
<text x="430.67" y="314.10" font-size="6.9" font-weight="bold" fill="#111" stroke="#111" stroke-width="0.28" textLength="3.45" lengthAdjust="spacingAndGlyphs">4</text>
<text x="454.67" y="314.10" font-size="6.9" font-weight="bold" fill="#111" stroke="#111" stroke-width="0.28" textLength="3.45" lengthAdjust="spacingAndGlyphs">5</text>
<text x="470.88" y="314.10" font-size="6.9" font-weight="bold" fill="#111" stroke="#111" stroke-width="0.28" textLength="3.45" lengthAdjust="spacingAndGlyphs">8</text>
<polyline points="325.00,229.50 348.80,298.80 360.20,305.00 476.00,305.00" fill="none" stroke="#5c5c5c" stroke-width="0.9" stroke-dasharray="3 1.2"/>
<circle cx="325.00" cy="229.50" r="1.6" fill="#767676" stroke="#5a5a5a" stroke-width="0.5"/>
<circle cx="348.80" cy="298.80" r="1.6" fill="#767676" stroke="#5a5a5a" stroke-width="0.5"/>
<circle cx="360.20" cy="305.00" r="1.6" fill="#767676" stroke="#5a5a5a" stroke-width="0.5"/>
<circle cx="384.20" cy="305.00" r="1.6" fill="#767676" stroke="#5a5a5a" stroke-width="0.5"/>
<circle cx="403.40" cy="305.00" r="1.6" fill="#767676" stroke="#5a5a5a" stroke-width="0.5"/>
<circle cx="432.00" cy="305.00" r="1.6" fill="#767676" stroke="#5a5a5a" stroke-width="0.5"/>
<circle cx="455.80" cy="305.00" r="1.6" fill="#767676" stroke="#5a5a5a" stroke-width="0.5"/>
<circle cx="475.50" cy="305.00" r="1.6" fill="#767676" stroke="#5a5a5a" stroke-width="0.5"/>
<text x="396.70" y="200.20" font-size="7.0" font-weight="bold" fill="#111" stroke="#111" stroke-width="0.28" textLength="21.40" lengthAdjust="spacingAndGlyphs">AP1903</text>
<line x1="407.50" y1="203.30" x2="407.50" y2="211.60" stroke="#111" stroke-width="1.8" />
<polyline points="403.90,206.90 407.50,211.90 411.10,206.90" fill="none" stroke="#111" stroke-width="1.8" stroke-linejoin="miter"/>
<text x="320.40" y="195.95" font-size="7.9" font-weight="bold" fill="#111" stroke="#111" stroke-width="0.28" textLength="19.20" lengthAdjust="spacingAndGlyphs">Pt. #8</text>
<rect x="317.20" y="199.70" width="4.60" height="4.60" fill="#111"/>
<rect x="317.65" y="206.95" width="3.70" height="3.70" fill="#808080" stroke="#222" stroke-width="0.9"/>
<line x1="316.60" y1="215.50" x2="322.40" y2="215.50" stroke="#5c5c5c" stroke-width="0.9" />
<circle cx="319.50" cy="215.50" r="1.3" fill="#767676" stroke="#5a5a5a" stroke-width="0.5"/>
<text x="326.30" y="204.30" font-size="6.1" font-weight="bold" fill="#111" stroke="#111" stroke-width="0.28" textLength="30.70" lengthAdjust="spacingAndGlyphs">Without CID</text>
<text x="326.30" y="211.10" font-size="6.1" font-weight="bold" fill="#111" stroke="#111" stroke-width="0.28" textLength="46.20" lengthAdjust="spacingAndGlyphs">With CID (in vitro)</text>
<text x="326.30" y="217.80" font-size="6.1" font-weight="bold" fill="#111" stroke="#111" stroke-width="0.28" textLength="38.20" lengthAdjust="spacingAndGlyphs">CMV viral load</text>
<text transform="translate(296.20,253.50) rotate(-90)" x="-31.00" y="3.00" font-size="7.8" font-weight="bold" fill="#111" stroke="#111" stroke-width="0.28" textLength="62.00" lengthAdjust="spacingAndGlyphs">SFC / 5x10<tspan font-size="5" dy="-2.6">5</tspan><tspan dy="2.6"> </tspan>PBMCs</text>
<text transform="translate(517.00,244.00) rotate(90)" x="-27.00" y="3.00" font-size="7.8" font-weight="bold" fill="#111" stroke="#111" stroke-width="0.28" textLength="54.00" lengthAdjust="spacingAndGlyphs">CMV copies/ mL</text>
<text x="357.90" y="329.30" font-size="7.7" font-weight="bold" fill="#111" stroke="#111" stroke-width="0.28" textLength="88.40" lengthAdjust="spacingAndGlyphs">Weeks after T-cell infusion</text>
</g>
<g id="panelE">
<text x="1.40" y="373.10" font-size="10.9" font-weight="bold" fill="#111" stroke="#111" stroke-width="0.6" textLength="6.60" lengthAdjust="spacingAndGlyphs">E</text>
<text x="1.30" y="388.00" font-size="8.6" font-weight="bold" fill="#111" stroke="#111" stroke-width="0.4" textLength="18.90" lengthAdjust="spacingAndGlyphs">CMV</text>
<rect x="53.30" y="495.16" width="4.60" height="2.34" fill="#111"/>
<rect x="58.20" y="496.63" width="3.40" height="0.87" fill="#b4b4b4" stroke="#222" stroke-width="0.7"/>
<rect x="67.00" y="461.91" width="4.30" height="35.59" fill="#111"/>
<rect x="71.60" y="465.50" width="3.90" height="32.00" fill="#b4b4b4" stroke="#222" stroke-width="0.7"/>
<rect x="93.80" y="437.15" width="4.40" height="60.35" fill="#111"/>
<rect x="98.50" y="437.45" width="3.70" height="60.05" fill="#b4b4b4" stroke="#222" stroke-width="0.7"/>
<rect x="120.50" y="419.62" width="4.10" height="77.88" fill="#111"/>
<rect x="124.90" y="425.76" width="3.40" height="71.74" fill="#b4b4b4" stroke="#222" stroke-width="0.7"/>
<rect x="146.90" y="398.69" width="4.40" height="98.81" fill="#111"/>
<rect x="151.60" y="403.66" width="3.70" height="93.84" fill="#b4b4b4" stroke="#222" stroke-width="0.7"/>
<rect x="160.20" y="420.79" width="4.30" height="76.71" fill="#111"/>
<rect x="164.80" y="431.29" width="3.20" height="66.21" fill="#b4b4b4" stroke="#222" stroke-width="0.7"/>
<rect x="173.80" y="473.27" width="4.50" height="24.23" fill="#111"/>
<rect x="178.60" y="483.56" width="3.60" height="13.94" fill="#b4b4b4" stroke="#222" stroke-width="0.7"/>
<rect x="200.50" y="465.84" width="4.50" height="31.66" fill="#111"/>
<rect x="205.30" y="478.14" width="3.70" height="19.36" fill="#b4b4b4" stroke="#222" stroke-width="0.7"/>
<line x1="45.10" y1="497.50" x2="219.90" y2="497.50" stroke="#111" stroke-width="1.0" />
<line x1="45.60" y1="390.75" x2="45.60" y2="498.00" stroke="#262626" stroke-width="1.05" />
<line x1="43.30" y1="391.25" x2="45.60" y2="391.25" stroke="#262626" stroke-width="1.0" />
<text x="28.90" y="393.97" font-size="6.9" font-weight="bold" fill="#111" stroke="#111" stroke-width="0.28" textLength="13.80" lengthAdjust="spacingAndGlyphs">1000</text>
<line x1="43.30" y1="412.50" x2="45.60" y2="412.50" stroke="#262626" stroke-width="1.0" />
<text x="32.35" y="415.22" font-size="6.9" font-weight="bold" fill="#111" stroke="#111" stroke-width="0.28" textLength="10.35" lengthAdjust="spacingAndGlyphs">800</text>
<line x1="43.30" y1="433.75" x2="45.60" y2="433.75" stroke="#262626" stroke-width="1.0" />
<text x="32.35" y="436.47" font-size="6.9" font-weight="bold" fill="#111" stroke="#111" stroke-width="0.28" textLength="10.35" lengthAdjust="spacingAndGlyphs">600</text>
<line x1="43.30" y1="455.00" x2="45.60" y2="455.00" stroke="#262626" stroke-width="1.0" />
<text x="32.35" y="457.72" font-size="6.9" font-weight="bold" fill="#111" stroke="#111" stroke-width="0.28" textLength="10.35" lengthAdjust="spacingAndGlyphs">400</text>
<line x1="43.30" y1="476.25" x2="45.60" y2="476.25" stroke="#262626" stroke-width="1.0" />
<text x="32.35" y="478.97" font-size="6.9" font-weight="bold" fill="#111" stroke="#111" stroke-width="0.28" textLength="10.35" lengthAdjust="spacingAndGlyphs">200</text>
<line x1="43.30" y1="497.50" x2="45.60" y2="497.50" stroke="#262626" stroke-width="1.0" />
<text x="39.25" y="500.22" font-size="6.9" font-weight="bold" fill="#111" stroke="#111" stroke-width="0.28" textLength="3.45" lengthAdjust="spacingAndGlyphs">0</text>
<line x1="219.40" y1="390.75" x2="219.40" y2="498.00" stroke="#262626" stroke-width="1.05" />
<line x1="219.40" y1="391.25" x2="221.70" y2="391.25" stroke="#262626" stroke-width="1.0" />
<text x="222.20" y="393.97" font-size="6.9" font-weight="bold" fill="#111" stroke="#111" stroke-width="0.28" textLength="13.80" lengthAdjust="spacingAndGlyphs">5000</text>
<line x1="219.40" y1="412.50" x2="221.70" y2="412.50" stroke="#262626" stroke-width="1.0" />
<text x="222.20" y="415.22" font-size="6.9" font-weight="bold" fill="#111" stroke="#111" stroke-width="0.28" textLength="13.80" lengthAdjust="spacingAndGlyphs">4000</text>
<line x1="219.40" y1="433.75" x2="221.70" y2="433.75" stroke="#262626" stroke-width="1.0" />
<text x="222.20" y="436.47" font-size="6.9" font-weight="bold" fill="#111" stroke="#111" stroke-width="0.28" textLength="13.80" lengthAdjust="spacingAndGlyphs">3000</text>
<line x1="219.40" y1="455.00" x2="221.70" y2="455.00" stroke="#262626" stroke-width="1.0" />
<text x="222.20" y="457.72" font-size="6.9" font-weight="bold" fill="#111" stroke="#111" stroke-width="0.28" textLength="13.80" lengthAdjust="spacingAndGlyphs">2000</text>
<line x1="219.40" y1="476.25" x2="221.70" y2="476.25" stroke="#262626" stroke-width="1.0" />
<text x="222.20" y="478.97" font-size="6.9" font-weight="bold" fill="#111" stroke="#111" stroke-width="0.28" textLength="13.80" lengthAdjust="spacingAndGlyphs">1000</text>
<line x1="219.40" y1="497.50" x2="221.70" y2="497.50" stroke="#262626" stroke-width="1.0" />
<text x="222.20" y="500.22" font-size="6.9" font-weight="bold" fill="#111" stroke="#111" stroke-width="0.28" textLength="3.45" lengthAdjust="spacingAndGlyphs">0</text>
<line x1="71.80" y1="497.50" x2="71.80" y2="500.10" stroke="#111" stroke-width="1.0" />
<line x1="98.30" y1="497.50" x2="98.30" y2="500.10" stroke="#111" stroke-width="1.0" />
<line x1="125.00" y1="497.50" x2="125.00" y2="500.10" stroke="#111" stroke-width="1.0" />
<line x1="151.70" y1="497.50" x2="151.70" y2="500.10" stroke="#111" stroke-width="1.0" />
<line x1="178.30" y1="497.50" x2="178.30" y2="500.10" stroke="#111" stroke-width="1.0" />
<line x1="205.00" y1="497.50" x2="205.00" y2="500.10" stroke="#111" stroke-width="1.0" />
<text x="43.48" y="506.30" font-size="6.9" font-weight="bold" fill="#111" stroke="#111" stroke-width="0.28" textLength="3.45" lengthAdjust="spacingAndGlyphs">0</text>
<text x="70.08" y="506.30" font-size="6.9" font-weight="bold" fill="#111" stroke="#111" stroke-width="0.28" textLength="3.45" lengthAdjust="spacingAndGlyphs">1</text>
<text x="96.58" y="506.30" font-size="6.9" font-weight="bold" fill="#111" stroke="#111" stroke-width="0.28" textLength="3.45" lengthAdjust="spacingAndGlyphs">2</text>
<text x="123.28" y="506.30" font-size="6.9" font-weight="bold" fill="#111" stroke="#111" stroke-width="0.28" textLength="3.45" lengthAdjust="spacingAndGlyphs">3</text>
<text x="149.97" y="506.30" font-size="6.9" font-weight="bold" fill="#111" stroke="#111" stroke-width="0.28" textLength="3.45" lengthAdjust="spacingAndGlyphs">4</text>
<text x="176.58" y="506.30" font-size="6.9" font-weight="bold" fill="#111" stroke="#111" stroke-width="0.28" textLength="3.45" lengthAdjust="spacingAndGlyphs">5</text>
<text x="203.28" y="506.30" font-size="6.9" font-weight="bold" fill="#111" stroke="#111" stroke-width="0.28" textLength="3.45" lengthAdjust="spacingAndGlyphs">6</text>
<polyline points="45.60,492.80 52.00,467.80 53.50,459.30 55.60,411.60" fill="none" stroke="#5c5c5c" stroke-width="0.9" stroke-dasharray="3 1.2"/>
<polyline points="55.60,411.60 58.20,465.00 65.00,495.30 71.80,497.50 151.70,497.50 166.30,483.30 170.00,494.50 178.30,497.00 205.00,497.50" fill="none" stroke="#5c5c5c" stroke-width="0.9" stroke-dasharray="3 1.2"/>
<circle cx="45.60" cy="492.80" r="1.4" fill="#767676" stroke="#5a5a5a" stroke-width="0.5"/>
<circle cx="52.00" cy="467.80" r="1.4" fill="#767676" stroke="#5a5a5a" stroke-width="0.5"/>
<circle cx="53.50" cy="459.30" r="1.4" fill="#767676" stroke="#5a5a5a" stroke-width="0.5"/>
<circle cx="55.60" cy="411.60" r="1.4" fill="#767676" stroke="#5a5a5a" stroke-width="0.5"/>
<circle cx="58.20" cy="465.00" r="1.4" fill="#767676" stroke="#5a5a5a" stroke-width="0.5"/>
<circle cx="65.00" cy="495.30" r="1.4" fill="#767676" stroke="#5a5a5a" stroke-width="0.5"/>
<circle cx="71.80" cy="497.50" r="1.4" fill="#767676" stroke="#5a5a5a" stroke-width="0.5"/>
<circle cx="98.30" cy="497.50" r="1.4" fill="#767676" stroke="#5a5a5a" stroke-width="0.5"/>
<circle cx="125.00" cy="497.50" r="1.4" fill="#767676" stroke="#5a5a5a" stroke-width="0.5"/>
<circle cx="151.70" cy="497.50" r="1.4" fill="#767676" stroke="#5a5a5a" stroke-width="0.5"/>
<circle cx="170.00" cy="494.50" r="1.4" fill="#767676" stroke="#5a5a5a" stroke-width="0.5"/>
<circle cx="205.00" cy="497.50" r="1.4" fill="#767676" stroke="#5a5a5a" stroke-width="0.5"/>
<text x="118.80" y="400.30" font-size="7.0" font-weight="bold" fill="#111" stroke="#111" stroke-width="0.28" textLength="22.00" lengthAdjust="spacingAndGlyphs">AP1903</text>
<line x1="128.80" y1="404.20" x2="128.80" y2="413.50" stroke="#111" stroke-width="1.8" />
<polyline points="125.20,408.80 128.80,413.80 132.40,408.80" fill="none" stroke="#111" stroke-width="1.8" stroke-linejoin="miter"/>
<text x="162.30" y="372.15" font-size="7.9" font-weight="bold" fill="#111" stroke="#111" stroke-width="0.28" textLength="19.00" lengthAdjust="spacingAndGlyphs">Pt. #9</text>
<rect x="159.30" y="376.10" width="4.60" height="4.60" fill="#111"/>
<rect x="159.75" y="383.25" width="3.70" height="3.70" fill="#808080" stroke="#222" stroke-width="0.9"/>
<line x1="158.70" y1="391.70" x2="164.50" y2="391.70" stroke="#5c5c5c" stroke-width="0.9" />
<circle cx="161.60" cy="391.70" r="1.3" fill="#767676" stroke="#5a5a5a" stroke-width="0.5"/>
<text x="168.30" y="380.70" font-size="6.1" font-weight="bold" fill="#111" stroke="#111" stroke-width="0.28" textLength="31.20" lengthAdjust="spacingAndGlyphs">Without CID</text>
<text x="168.30" y="387.40" font-size="6.1" font-weight="bold" fill="#111" stroke="#111" stroke-width="0.28" textLength="46.20" lengthAdjust="spacingAndGlyphs">With CID (in vitro)</text>
<text x="168.30" y="394.00" font-size="6.1" font-weight="bold" fill="#111" stroke="#111" stroke-width="0.28" textLength="38.70" lengthAdjust="spacingAndGlyphs">CMV viral load</text>
<text transform="translate(19.40,439.40) rotate(-90)" x="-29.00" y="3.00" font-size="8.1" font-weight="bold" fill="#111" stroke="#111" stroke-width="0.28" textLength="58.00" lengthAdjust="spacingAndGlyphs">SFC / 5x10<tspan font-size="5" dy="-2.6">5</tspan><tspan dy="2.6"> </tspan>PBMC</text>
<text transform="translate(245.20,441.30) rotate(90)" x="-28.75" y="3.00" font-size="8.0" font-weight="bold" fill="#111" stroke="#111" stroke-width="0.28" textLength="57.50" lengthAdjust="spacingAndGlyphs">CMV Copies/ mL</text>
<text x="92.55" y="518.00" font-size="7.7" font-weight="bold" fill="#111" stroke="#111" stroke-width="0.28" textLength="92.50" lengthAdjust="spacingAndGlyphs">Months after T-cell infusion</text>
</g>
<g id="panelF">
<text x="277.50" y="373.30" font-size="10.9" font-weight="bold" fill="#111" stroke="#111" stroke-width="0.6" textLength="6.20" lengthAdjust="spacingAndGlyphs">F</text>
<text x="273.00" y="388.10" font-size="8.7" font-weight="bold" fill="#111" stroke="#111" stroke-width="0.4" textLength="15.80" lengthAdjust="spacingAndGlyphs">BKV</text>
<rect x="313.60" y="490.72" width="4.40" height="1.28" fill="#111"/>
<rect x="318.30" y="491.53" width="3.40" height="0.47" fill="#b4b4b4" stroke="#222" stroke-width="0.7"/>
<rect x="361.70" y="475.17" width="4.70" height="16.83" fill="#111"/>
<rect x="366.70" y="491.53" width="3.20" height="0.47" fill="#b4b4b4" stroke="#222" stroke-width="0.7"/>
<rect x="375.80" y="411.21" width="4.60" height="80.79" fill="#111"/>
<rect x="380.70" y="491.27" width="3.20" height="0.73" fill="#b4b4b4" stroke="#222" stroke-width="0.7"/>
<rect x="389.60" y="445.12" width="4.50" height="46.88" fill="#111"/>
<rect x="394.40" y="491.91" width="3.00" height="0.10" fill="#b4b4b4" stroke="#222" stroke-width="0.7"/>
<rect x="419.50" y="489.05" width="3.90" height="2.95" fill="#111"/>
<rect x="423.70" y="490.76" width="3.20" height="1.24" fill="#b4b4b4" stroke="#222" stroke-width="0.7"/>
<rect x="446.40" y="490.97" width="4.40" height="1.03" fill="#111"/>
<rect x="451.10" y="491.66" width="3.40" height="0.34" fill="#b4b4b4" stroke="#222" stroke-width="0.7"/>
<line x1="311.60" y1="492.00" x2="480.60" y2="492.00" stroke="#111" stroke-width="1.0" />
<line x1="312.10" y1="388.75" x2="312.10" y2="492.50" stroke="#262626" stroke-width="1.05" />
<line x1="309.80" y1="389.25" x2="312.10" y2="389.25" stroke="#262626" stroke-width="1.0" />
<text x="298.85" y="391.97" font-size="6.9" font-weight="bold" fill="#111" stroke="#111" stroke-width="0.28" textLength="10.35" lengthAdjust="spacingAndGlyphs">800</text>
<line x1="309.80" y1="414.90" x2="312.10" y2="414.90" stroke="#262626" stroke-width="1.0" />
<text x="298.85" y="417.62" font-size="6.9" font-weight="bold" fill="#111" stroke="#111" stroke-width="0.28" textLength="10.35" lengthAdjust="spacingAndGlyphs">600</text>
<line x1="309.80" y1="440.60" x2="312.10" y2="440.60" stroke="#262626" stroke-width="1.0" />
<text x="298.85" y="443.32" font-size="6.9" font-weight="bold" fill="#111" stroke="#111" stroke-width="0.28" textLength="10.35" lengthAdjust="spacingAndGlyphs">400</text>
<line x1="309.80" y1="466.30" x2="312.10" y2="466.30" stroke="#262626" stroke-width="1.0" />
<text x="298.85" y="469.02" font-size="6.9" font-weight="bold" fill="#111" stroke="#111" stroke-width="0.28" textLength="10.35" lengthAdjust="spacingAndGlyphs">200</text>
<line x1="309.80" y1="492.00" x2="312.10" y2="492.00" stroke="#262626" stroke-width="1.0" />
<text x="305.75" y="494.72" font-size="6.9" font-weight="bold" fill="#111" stroke="#111" stroke-width="0.28" textLength="3.45" lengthAdjust="spacingAndGlyphs">0</text>
<line x1="480.10" y1="388.75" x2="480.10" y2="492.50" stroke="#262626" stroke-width="1.05" />
<line x1="480.10" y1="389.25" x2="482.40" y2="389.25" stroke="#262626" stroke-width="1.0" />
<text x="482.90" y="391.97" font-size="6.9" font-weight="bold" fill="#111" stroke="#111" stroke-width="0.28" textLength="20.70" lengthAdjust="spacingAndGlyphs">120000</text>
<line x1="480.10" y1="423.50" x2="482.40" y2="423.50" stroke="#262626" stroke-width="1.0" />
<text x="482.90" y="426.22" font-size="6.9" font-weight="bold" fill="#111" stroke="#111" stroke-width="0.28" textLength="17.25" lengthAdjust="spacingAndGlyphs">80000</text>
<line x1="480.10" y1="457.75" x2="482.40" y2="457.75" stroke="#262626" stroke-width="1.0" />
<text x="482.90" y="460.47" font-size="6.9" font-weight="bold" fill="#111" stroke="#111" stroke-width="0.28" textLength="17.25" lengthAdjust="spacingAndGlyphs">40000</text>
<line x1="480.10" y1="492.00" x2="482.40" y2="492.00" stroke="#262626" stroke-width="1.0" />
<text x="482.90" y="494.72" font-size="6.9" font-weight="bold" fill="#111" stroke="#111" stroke-width="0.28" textLength="3.45" lengthAdjust="spacingAndGlyphs">0</text>
<line x1="340.10" y1="492.00" x2="340.10" y2="494.60" stroke="#111" stroke-width="1.0" />
<line x1="368.10" y1="492.00" x2="368.10" y2="494.60" stroke="#111" stroke-width="1.0" />
<line x1="396.20" y1="492.00" x2="396.20" y2="494.60" stroke="#111" stroke-width="1.0" />
<line x1="424.40" y1="492.00" x2="424.40" y2="494.60" stroke="#111" stroke-width="1.0" />
<line x1="452.40" y1="492.00" x2="452.40" y2="494.60" stroke="#111" stroke-width="1.0" />
<line x1="480.50" y1="492.00" x2="480.50" y2="494.60" stroke="#111" stroke-width="1.0" />
<text x="310.27" y="500.80" font-size="6.9" font-weight="bold" fill="#111" stroke="#111" stroke-width="0.28" textLength="3.45" lengthAdjust="spacingAndGlyphs">0</text>
<text x="338.38" y="500.80" font-size="6.9" font-weight="bold" fill="#111" stroke="#111" stroke-width="0.28" textLength="3.45" lengthAdjust="spacingAndGlyphs">1</text>
<text x="366.38" y="500.80" font-size="6.9" font-weight="bold" fill="#111" stroke="#111" stroke-width="0.28" textLength="3.45" lengthAdjust="spacingAndGlyphs">2</text>
<text x="394.47" y="500.80" font-size="6.9" font-weight="bold" fill="#111" stroke="#111" stroke-width="0.28" textLength="3.45" lengthAdjust="spacingAndGlyphs">3</text>
<text x="422.67" y="500.80" font-size="6.9" font-weight="bold" fill="#111" stroke="#111" stroke-width="0.28" textLength="3.45" lengthAdjust="spacingAndGlyphs">4</text>
<text x="450.67" y="500.80" font-size="6.9" font-weight="bold" fill="#111" stroke="#111" stroke-width="0.28" textLength="3.45" lengthAdjust="spacingAndGlyphs">5</text>
<text x="478.77" y="500.80" font-size="6.9" font-weight="bold" fill="#111" stroke="#111" stroke-width="0.28" textLength="3.45" lengthAdjust="spacingAndGlyphs">6</text>
<polyline points="312.00,481.50 315.00,476.50 319.30,482.50 326.30,482.80 333.30,467.50 340.00,448.30 345.80,399.50 354.30,432.80 368.00,469.50 370.00,484.50 374.30,489.00 380.00,491.30 382.50,491.50 390.00,492.00 396.20,492.00 424.40,492.00 452.40,492.00 480.50,492.00" fill="none" stroke="#5c5c5c" stroke-width="0.9" stroke-dasharray="3 1.2"/>
<circle cx="312.00" cy="481.50" r="1.4" fill="#767676" stroke="#5a5a5a" stroke-width="0.5"/>
<circle cx="315.00" cy="476.50" r="1.4" fill="#767676" stroke="#5a5a5a" stroke-width="0.5"/>
<circle cx="319.30" cy="482.50" r="1.4" fill="#767676" stroke="#5a5a5a" stroke-width="0.5"/>
<circle cx="326.30" cy="482.80" r="1.4" fill="#767676" stroke="#5a5a5a" stroke-width="0.5"/>
<circle cx="333.30" cy="467.50" r="1.4" fill="#767676" stroke="#5a5a5a" stroke-width="0.5"/>
<circle cx="340.00" cy="448.30" r="1.4" fill="#767676" stroke="#5a5a5a" stroke-width="0.5"/>
<circle cx="345.80" cy="399.50" r="1.4" fill="#767676" stroke="#5a5a5a" stroke-width="0.5"/>
<circle cx="354.30" cy="432.80" r="1.4" fill="#767676" stroke="#5a5a5a" stroke-width="0.5"/>
<circle cx="368.00" cy="469.50" r="1.4" fill="#767676" stroke="#5a5a5a" stroke-width="0.5"/>
<circle cx="370.00" cy="484.50" r="1.4" fill="#767676" stroke="#5a5a5a" stroke-width="0.5"/>
<circle cx="374.30" cy="489.00" r="1.4" fill="#767676" stroke="#5a5a5a" stroke-width="0.5"/>
<circle cx="380.00" cy="491.30" r="1.4" fill="#767676" stroke="#5a5a5a" stroke-width="0.5"/>
<circle cx="382.50" cy="491.50" r="1.4" fill="#767676" stroke="#5a5a5a" stroke-width="0.5"/>
<circle cx="390.00" cy="492.00" r="1.4" fill="#767676" stroke="#5a5a5a" stroke-width="0.5"/>
<circle cx="396.20" cy="492.00" r="1.4" fill="#767676" stroke="#5a5a5a" stroke-width="0.5"/>
<circle cx="424.40" cy="492.00" r="1.4" fill="#767676" stroke="#5a5a5a" stroke-width="0.5"/>
<circle cx="452.40" cy="492.00" r="1.4" fill="#767676" stroke="#5a5a5a" stroke-width="0.5"/>
<circle cx="480.50" cy="492.00" r="1.4" fill="#767676" stroke="#5a5a5a" stroke-width="0.5"/>
<text x="384.30" y="425.30" font-size="7.0" font-weight="bold" fill="#111" stroke="#111" stroke-width="0.28" textLength="23.00" lengthAdjust="spacingAndGlyphs">AP1903</text>
<line x1="397.50" y1="428.00" x2="397.50" y2="436.90" stroke="#111" stroke-width="1.8" />
<polyline points="393.90,432.20 397.50,437.20 401.10,432.20" fill="none" stroke="#111" stroke-width="1.8" stroke-linejoin="miter"/>
<text x="420.10" y="381.15" font-size="7.9" font-weight="bold" fill="#111" stroke="#111" stroke-width="0.28" textLength="19.00" lengthAdjust="spacingAndGlyphs">Pt. #9</text>
<rect x="420.20" y="385.80" width="4.40" height="4.40" fill="#111"/>
<rect x="420.65" y="393.25" width="3.50" height="3.50" fill="#808080" stroke="#222" stroke-width="0.9"/>
<line x1="419.60" y1="402.00" x2="425.20" y2="402.00" stroke="#5c5c5c" stroke-width="0.9" />
<circle cx="422.40" cy="402.00" r="1.3" fill="#767676" stroke="#5a5a5a" stroke-width="0.5"/>
<text x="429.30" y="390.30" font-size="6.1" font-weight="bold" fill="#111" stroke="#111" stroke-width="0.28" textLength="32.00" lengthAdjust="spacingAndGlyphs">Without CID</text>
<text x="429.30" y="397.30" font-size="6.1" font-weight="bold" fill="#111" stroke="#111" stroke-width="0.28" textLength="47.70" lengthAdjust="spacingAndGlyphs">With CID (in vitro)</text>
<text x="429.30" y="404.30" font-size="6.1" font-weight="bold" fill="#111" stroke="#111" stroke-width="0.28" textLength="39.50" lengthAdjust="spacingAndGlyphs">BKV viral load</text>
<text transform="translate(285.90,432.80) rotate(-90)" x="-29.25" y="3.00" font-size="8.0" font-weight="bold" fill="#111" stroke="#111" stroke-width="0.28" textLength="58.50" lengthAdjust="spacingAndGlyphs">SFC / 5x10<tspan font-size="5" dy="-2.6">5</tspan><tspan dy="2.6"> </tspan>PBMC</text>
<text transform="translate(517.10,437.80) rotate(90)" x="-27.15" y="3.00" font-size="7.9" font-weight="bold" fill="#111" stroke="#111" stroke-width="0.28" textLength="54.30" lengthAdjust="spacingAndGlyphs">BKV Copies/ mL</text>
<text x="353.15" y="512.40" font-size="7.7" font-weight="bold" fill="#111" stroke="#111" stroke-width="0.28" textLength="92.30" lengthAdjust="spacingAndGlyphs">Months after T-cell infusion</text>
</g>
</g>
</svg>
</body></html>
